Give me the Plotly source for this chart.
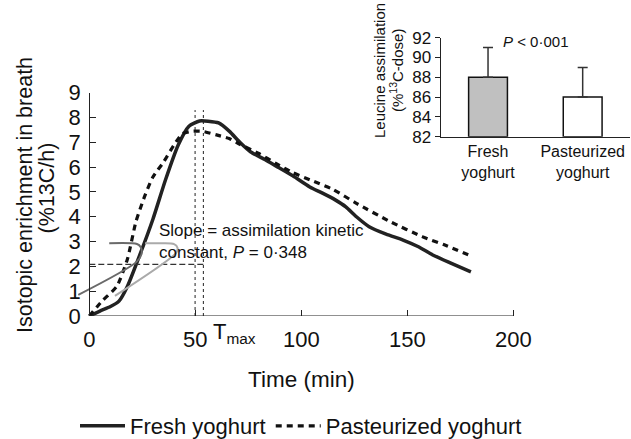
import plotly.graph_objects as go

# ---- main chart data ----
fresh_t = [0, 5, 10, 14, 18, 24, 30, 36, 42, 47, 52, 56, 61, 66, 71, 76, 83, 88, 96, 104, 110, 116, 121, 126, 132, 140, 148, 155, 162, 170, 180]
fresh_y = [0, 0.2, 0.38, 0.6, 1.2, 2.5, 3.9, 5.5, 6.9, 7.65, 7.86, 7.85, 7.78, 7.45, 7.0, 6.62, 6.3, 6.05, 5.65, 5.2, 4.95, 4.68, 4.4, 4.0, 3.6, 3.3, 3.06, 2.8, 2.46, 2.15, 1.78]

past_t = [0, 6, 13, 18, 22, 26, 30, 35, 40, 44, 48, 53, 60, 66, 71, 80, 88, 96, 106, 115, 126, 142, 157, 168, 180]
past_y = [0, 0.6, 1.2, 2.3, 3.8, 4.8, 5.6, 6.2, 6.9, 7.35, 7.44, 7.45, 7.3, 7.15, 6.92, 6.55, 6.15, 5.78, 5.42, 5.1, 4.54, 3.8, 3.2, 2.85, 2.42]

tmax_lines = [49.9, 53.8]
tmax_top = 8.3
half_level = 2.08

dark_t = [-5.2, 22.4, 24.7, 24.2, 22.5, 9.4]
dark_y = [0.85, 2.19, 2.53, 2.78, 2.9, 2.93]
light_t = [12.1, 41.0, 41.6, 40.0, 34.0, 26.3]
light_y = [0.81, 2.55, 2.75, 2.9, 2.93, 2.93]

x_ticks = [0, 50, 100, 150, 200]
y_ticks = list(range(0, 10))

# ---- inset data ----
inset_cats = ["Fresh<br>yoghurt", "Pasteurized<br>yoghurt"]
inset_vals = [88, 86]
inset_err = [3, 3]
inset_colors = ["#c0c0c0", "#ffffff"]
inset_ticks = [82, 84, 86, 88, 90, 92]

FONT = "Liberation Sans, Arial, sans-serif"
W, H = 631, 439

fig = go.Figure()

fig.add_trace(go.Scatter(x=fresh_t, y=fresh_y, mode="lines", name="Fresh yoghurt",
                         line=dict(color="#222222", width=3.5, shape="spline", smoothing=0.6)))
fig.add_trace(go.Scatter(x=past_t, y=past_y, mode="lines", name="Pasteurized yoghurt",
                         line=dict(color="#111111", width=3.2, dash="6px,5px", shape="spline", smoothing=0.6)))

for tx in tmax_lines:
    fig.add_trace(go.Scatter(x=[tx, tx], y=[0, tmax_top], mode="lines", showlegend=False,
                             line=dict(color="#222222", width=1, dash="dot")))
fig.add_trace(go.Scatter(x=[0, tmax_lines[1]], y=[half_level, half_level], mode="lines", showlegend=False,
                         line=dict(color="#333333", width=1.2, dash="6px,3px")))
fig.add_trace(go.Scatter(x=dark_t, y=dark_y, mode="lines", showlegend=False,
                         line=dict(color="#6a6a6a", width=2, shape="spline", smoothing=0.8)))
fig.add_trace(go.Scatter(x=light_t, y=light_y, mode="lines", showlegend=False,
                         line=dict(color="#aaaaaa", width=2, shape="spline", smoothing=0.8)))

fig.add_trace(go.Bar(x=inset_cats, y=[v - 82 for v in inset_vals], base=82, xaxis="x2", yaxis="y2",
                     marker=dict(color=inset_colors, line=dict(color="#111111", width=1.5)),
                     width=0.41, showlegend=False,
                     error_y=dict(type="data", array=inset_err, arrayminus=[0, 0], symmetric=False,
                                  color="#333333", thickness=1.5, width=5)))

# pixel -> paper helpers
def px(xp):
    return xp / W
def py(yp):
    return (H - yp) / H

x0px = 89.3
pxpm = 2.12
xr = [-7, 205]
xdom = [px(x0px + xr[0] * pxpm), px(x0px + xr[1] * pxpm)]

def ann(text, x, y, size, **kw):
    d = dict(text=text, xref="paper", yref="paper", x=px(x), y=py(y), showarrow=False,
             xanchor="center", yanchor="middle", font=dict(size=size))
    d.update(kw)
    return d

fig.update_layout(
    width=W, height=H,
    margin=dict(l=0, r=0, t=0, b=0, autoexpand=False),
    paper_bgcolor="white", plot_bgcolor="rgba(0,0,0,0)",
    font=dict(family=FONT, color="#111111"),
    xaxis=dict(domain=xdom, range=xr, showline=False, showgrid=False, zeroline=False,
               tickvals=x_ticks, ticks="inside", ticklen=6, tickcolor="#222222",
               tickfont=dict(size=22), ticklabelstandoff=8, anchor="y", automargin=False),
    yaxis=dict(domain=[py(316), py(92.7)], range=[0, 9], showline=True, linecolor="#222222",
               linewidth=1.2, showgrid=False, zeroline=False, tickvals=y_ticks,
               ticks="inside", ticklen=6, tickcolor="#222222", tickfont=dict(size=22),
               ticklabelstandoff=4, anchor="free", position=px(x0px), automargin=False),
    xaxis2=dict(domain=[px(440.7), px(630)], range=[-0.5, 1.5], anchor="y2", showline=True,
                linecolor="#222222", linewidth=1.2, ticks="", tickfont=dict(size=16),
                showgrid=False, zeroline=False, automargin=False),
    yaxis2=dict(domain=[py(136.7), py(37.7)], range=[82, 92], anchor="x2", showline=True,
                linecolor="#222222", linewidth=1.2, tickvals=inset_ticks, ticks="outside",
                ticklen=5, tickcolor="#222222", tickfont=dict(size=17), showgrid=False,
                zeroline=False, automargin=False),
    legend=dict(orientation="h", x=px(301), y=py(426), xanchor="center", yanchor="middle",
                font=dict(size=22), bgcolor="rgba(0,0,0,0)", itemwidth=45),
    shapes=[dict(type="line", xref="x", yref="y", x0=0, x1=200, y0=0, y1=0,
                 line=dict(color="#222222", width=1.2))],
    annotations=[
        ann("Isotopic enrichment in breath", 25, 195, 21.5, textangle=-90),
        ann("(%13C/h)", 47, 188.5, 21.5, textangle=-90),
        ann("Time (min)", 301, 379, 22.5),
        ann("T<sub>max</sub>", 211, 333, 22, xanchor="left"),
        ann("Slope = assimilation kinetic<br>constant, <i>P</i> = 0·348", 157, 241, 17,
            xanchor="left", align="left"),
        ann("<i>P</i> &lt; 0·001", 535, 41.5, 15),
        ann("Leucine assimilation", 380, 71, 15, textangle=-90),
        ann("(%<sup>13</sup>C-dose)", 397, 71, 15, textangle=-90),
    ],
)

fig.write_html("out.html", config={"displayModeBar": False},
               post_script="document.body.style.margin='0';document.body.style.padding='0';")
